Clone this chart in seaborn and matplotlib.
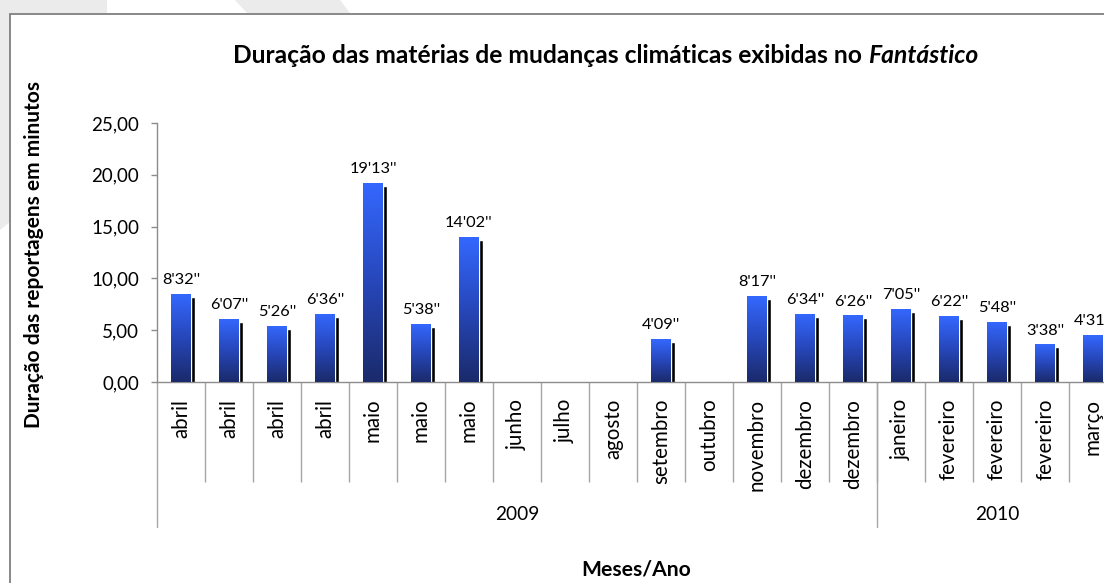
import numpy as np
import pandas as pd
import matplotlib
matplotlib.use('Agg')
import matplotlib.pyplot as plt
import matplotlib.transforms as mtransforms
from matplotlib.colors import LinearSegmentedColormap
from matplotlib.patches import Polygon, Rectangle
import seaborn as sns

# dados (minutos em decimal + rotulo original)
meses = ['abril', 'abril', 'abril', 'abril', 'maio', 'maio', 'maio', 'junho', 'julho',
         'agosto', 'setembro', 'outubro', 'novembro', 'dezembro', 'dezembro',
         'janeiro', 'fevereiro', 'fevereiro', 'fevereiro', 'março']
ano = ['2009'] * 15 + ['2010'] * 5
duracao = [8.53, 6.12, 5.43, 6.60, 19.22, 5.63, 14.03, 0, 0, 0, 4.15, 0,
           8.28, 6.57, 6.43, 7.08, 6.37, 5.80, 3.63, 4.52]
rotulos = ["8'32''", "6'07''", "5'26''", "6'36''", "19'13''", "5'38''", "14'02''", '', '', '',
           "4'09''", '', "8'17''", "6'34''", "6'26''", "7'05''", "6'22''", "5'48''", "3'38''", "4'31''"]
yticks = [0, 5, 10, 15, 20, 25]

W, H = 1104, 583
cinza = '#8c8c8c'

sns.set_theme(style='white')
plt.rcParams['font.family'] = ['Lato', 'DejaVu Sans']

df = pd.DataFrame({'pos': [str(i) for i in range(len(meses))], 'mes': meses,
                   'ano': ano, 'dur': duracao})

fig = plt.figure(figsize=(W / 100, H / 100), dpi=100)
fig.patch.set_facecolor('white')

# marca d'agua cinza clara no canto
fig.add_artist(Polygon([(0, H), (107, H), (107, H - 13), (10, H - 13), (10, H - 222), (0, H - 230)],
                       closed=True, transform=None, facecolor='#ebebeb', edgecolor='none'))
fig.add_artist(Polygon([(235, H), (340, H), (350, H - 13), (247, H - 13)],
                       closed=True, transform=None, facecolor='#ebebeb', edgecolor='none'))
# moldura do grafico
fig.add_artist(Rectangle((10 / W, -0.1), 1.2, 1.1 - 14 / H, transform=fig.transFigure,
                         facecolor='none', edgecolor='#7f7f7f', linewidth=1.3))

x0, y0, ytop = 157, 382, 123
ax = fig.add_axes([x0 / W, 1 - y0 / H, (W - x0) / W, (y0 - ytop) / H])
ax.set_facecolor('none')

n = len(meses)
larg = 20 / 48.0

# sombra preta deslocada
sns.barplot(data=df, x='pos', y='dur', color='black', saturation=1, width=larg,
            ax=ax, zorder=1)
sombra = mtransforms.offset_copy(ax.transData, fig=fig, x=4, y=-3, units='dots')
for p in ax.patches:
    p.set_transform(sombra)
k = len(ax.patches)

sns.barplot(data=df, x='pos', y='dur', color='#3366ff', saturation=1, width=larg,
            ax=ax, zorder=2)

cmap = LinearSegmentedColormap.from_list('azul', [(0, '#1a2a6a'), (0.5, '#2747ba'), (1, '#3468ff')])
grad = np.linspace(1, 0, 256).reshape(-1, 1)
for p in ax.patches[k:]:
    h = p.get_height()
    if h <= 0:
        continue
    xl = p.get_x()
    im = ax.imshow(grad, cmap=cmap, vmin=0, vmax=1, extent=[xl, xl + p.get_width(), 0, h],
                   aspect='auto', origin='upper', zorder=3)
    im.set_clip_path(p)

ax.set_xlim(-0.5, -0.5 + (W - x0) / 48.0)
ax.set_ylim(0, 25)

# rotulos de dados
for i, (v, r) in enumerate(zip(duracao, rotulos)):
    if r:
        ax.annotate(r, (i, v), xytext=(0, 7), textcoords='offset points',
                    ha='center', va='baseline', fontsize=11.8, color='black')

ax.set_yticks(yticks)
ax.set_yticklabels([f'{v:.2f}'.replace('.', ',') for v in yticks])
ax.tick_params(axis='y', direction='out', length=4.5, width=1, color=cinza,
               pad=8.5, labelsize=13.5, labelcolor='black', left=True)

ax.set_xticks(range(n))
ax.set_xticklabels(meses, rotation=90, va='top', ha='center')
ax.tick_params(axis='x', which='major', length=0, pad=12, labelsize=14.8, labelcolor='black')
ax.set_xticks(np.arange(0.5, n - 1, 1), minor=True)
ax.tick_params(axis='x', which='minor', direction='out', length=72, width=1, color='#a6a6a6',
               bottom=True)
ax.set_xlabel('')
ax.set_ylabel('')

for s in ['top', 'right']:
    ax.spines[s].set_visible(False)
for s in ['left', 'bottom']:
    ax.spines[s].set_color(cinza)
    ax.spines[s].set_linewidth(1)

# divisao por ano
trans = ax.get_xaxis_transform()
prof = -(527 - y0) / (y0 - ytop)
ymid = -(515 - y0) / (y0 - ytop)
anos = list(dict.fromkeys(ano))
for a in anos:
    idx = [i for i, v in enumerate(ano) if v == a]
    ax.plot([idx[0] - 0.5, idx[0] - 0.5], [0, prof], transform=trans, color='#a6a6a6',
            lw=1, clip_on=False)
    ax.text(np.mean(idx), ymid, a, transform=trans, ha='center', va='center',
            fontsize=13.8, color='black')

# titulos
t1 = fig.text(233 / W, 1 - 63 / H, 'Duração das matérias de mudanças climáticas exibidas no ',
              fontsize=17.7, fontweight='bold', ha='left', va='baseline', color='black')
ax.annotate('Fantástico', xy=(1, 0), xycoords=t1, ha='left', va='bottom',
            fontsize=17.7, fontweight='bold', fontstyle='italic', color='black',
            annotation_clip=False)

fig.text(34 / W, 1 - 255 / H, 'Duração das reportagens em minutos', rotation=90,
         ha='center', va='center', fontsize=15, fontweight='bold', color='black')
fig.text(636 / W, 1 - 569 / H, 'Meses/Ano', ha='center', va='center', fontsize=15.2,
         fontweight='bold', color='black')

fig.savefig('out.png', dpi=100, facecolor='white')
